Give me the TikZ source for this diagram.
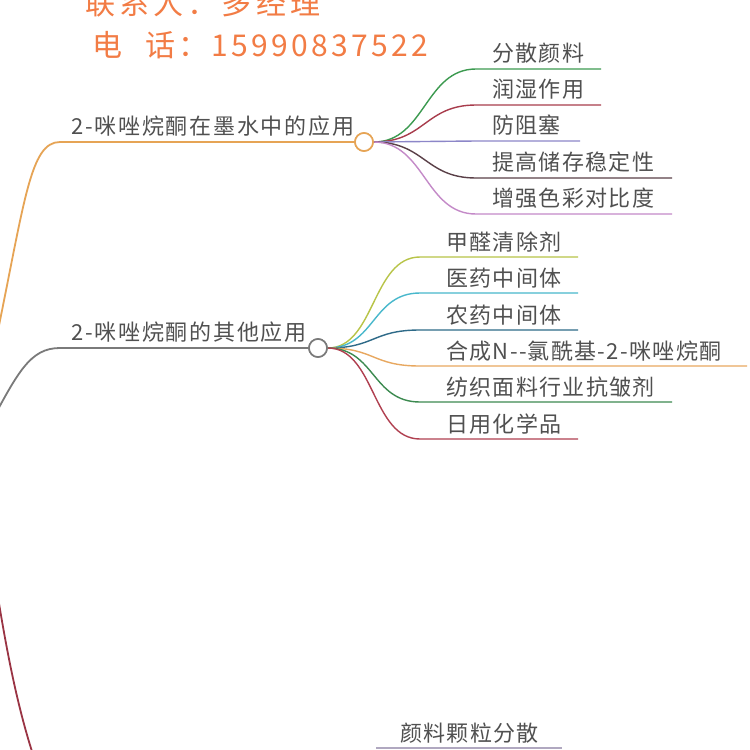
\documentclass[tikz,border=0pt]{standalone}
\usepackage{fontspec}
\setmainfont{Noto Sans CJK SC}
\newfontfamily\topfontA[LetterSpace=14]{Noto Sans CJK SC}
\newfontfamily\topfont[LetterSpace=11]{Noto Sans CJK SC}
\newfontfamily\mainlblfont[LetterSpace=8]{Noto Sans CJK SC}
\newfontfamily\sublblfont[LetterSpace=6]{Noto Sans CJK SC}
\definecolor{contactorange}{HTML}{F27C45}
\definecolor{textgray}{HTML}{505050}
\definecolor{brorange}{HTML}{E6A455}
\definecolor{brgray}{HTML}{7A7A7A}
\definecolor{brred}{HTML}{9A3444}
\definecolor{cgreen}{HTML}{3C9A50}
\definecolor{cdred}{HTML}{A83C4C}
\definecolor{clav}{HTML}{8C86C8}
\definecolor{cdark}{HTML}{5A4048}
\definecolor{cpink}{HTML}{C48AC8}
\definecolor{cyel}{HTML}{B8C448}
\definecolor{ccyan}{HTML}{48B8CC}
\definecolor{cteal}{HTML}{2E6A88}
\definecolor{corange}{HTML}{E8A860}
\definecolor{cgreen2}{HTML}{3C8A50}
\definecolor{cred2}{HTML}{B04050}
\definecolor{cbottom}{HTML}{B0A8C0}
\begin{document}
\begin{tikzpicture}[x=1pt,y=-1pt,
  contact/.style={anchor=west,inner sep=0pt,text=contactorange,font=\topfont\fontsize{30}{30}\selectfont},
  mainlbl/.style={anchor=west,inner sep=0pt,text=textgray,font=\mainlblfont\fontsize{22}{22}\selectfont},
  sublbl/.style={anchor=west,inner sep=0pt,text=textgray,font=\sublblfont\fontsize{22}{22}\selectfont},
  hub/.style={circle,draw,fill=white,line width=1.6pt,minimum size=18pt,inner sep=0pt},
  branch/.style={line width=1.8pt,line cap=round},
  twig/.style={line width=1.4pt}]
\useasboundingbox (0,0) rectangle (750,750);
\clip (0,0) rectangle (750,750);
\fill[white] (0,0) rectangle (750,750);

% contact
\node[contact,font=\topfontA\fontsize{30}{30}\selectfont] (contact1) at (85,3) {联系人：多经理};
\node[contact] (contact2) at (92,45) {电 \hspace{13pt}话：15990837522};

% main branches
\coordinate (root1) at (-5,345);
\coordinate (root2) at (-12,428);
\coordinate (root3) at (-4,585);
\coordinate (root3end) at (40,775);
\node[hub,draw=brorange] (hub1) at (364,142) {};
\node[hub,draw=brgray] (hub2) at (318,348) {};

\draw[branch,brorange] (root1) .. controls (25,200) and (30,142) .. (60,142) -- (hub1.west);
\draw[branch,brgray] (root2) .. controls (18,372) and (30,348) .. (60,348) -- (hub2.west);
\draw[branch,brred] (root3) .. controls (8,660) and (20,720) .. (root3end);

\node[mainlbl] (lbl1) at (71,126) {2-咪唑烷酮在墨水中的应用};
\node[mainlbl] (lbl2) at (71,332) {2-咪唑烷酮的其他应用};

% children of hub1
\foreach \y/\xe/\col/\nm/\txt in {
  69/601/cgreen/a1/分散颜料,
  105/601/cdred/a2/润湿作用,
  141/580/clav/a3/防阻塞,
  178/672/cdark/a4/提高储存稳定性,
  214/672/cpink/a5/增强色彩对比度}{
  \node[sublbl] (\nm) at (492,\y-16) {\txt};
  \coordinate (\nm e) at (\xe,\y);
  \draw[twig,\col] (hub1.east) .. controls (425,142) and (425,\y) .. (476,\y) -- (\nm e);
}
\node[hub,draw=brorange] at (hub1) {};

% children of hub2
\foreach \y/\xe/\col/\nm/\txt in {
  257/578/cyel/b1/甲醛清除剂,
  293/578/ccyan/b2/医药中间体,
  330/578/cteal/b3/农药中间体,
  366/747/corange/b4/合成N-{}-氯酰基-2-咪唑烷酮,
  402/672/cgreen2/b5/纺织面料行业抗皱剂,
  439/578/cred2/b6/日用化学品}{
  \node[sublbl] (\nm) at (446,\y-15) {\txt};
  \coordinate (\nm e) at (\xe,\y);
  \draw[twig,\col] (hub2.east) .. controls (375,348) and (372,\y) .. (420,\y) -- (\nm e);
}
\node[hub,draw=brgray] at (hub2) {};

% bottom item
\node[sublbl] (c1) at (400,733) {颜料颗粒分散};
\coordinate (c1s) at (376,748);
\coordinate (c1e) at (562,748);
\draw[twig,cbottom] (c1s) -- (c1e);
\end{tikzpicture}
\end{document}
